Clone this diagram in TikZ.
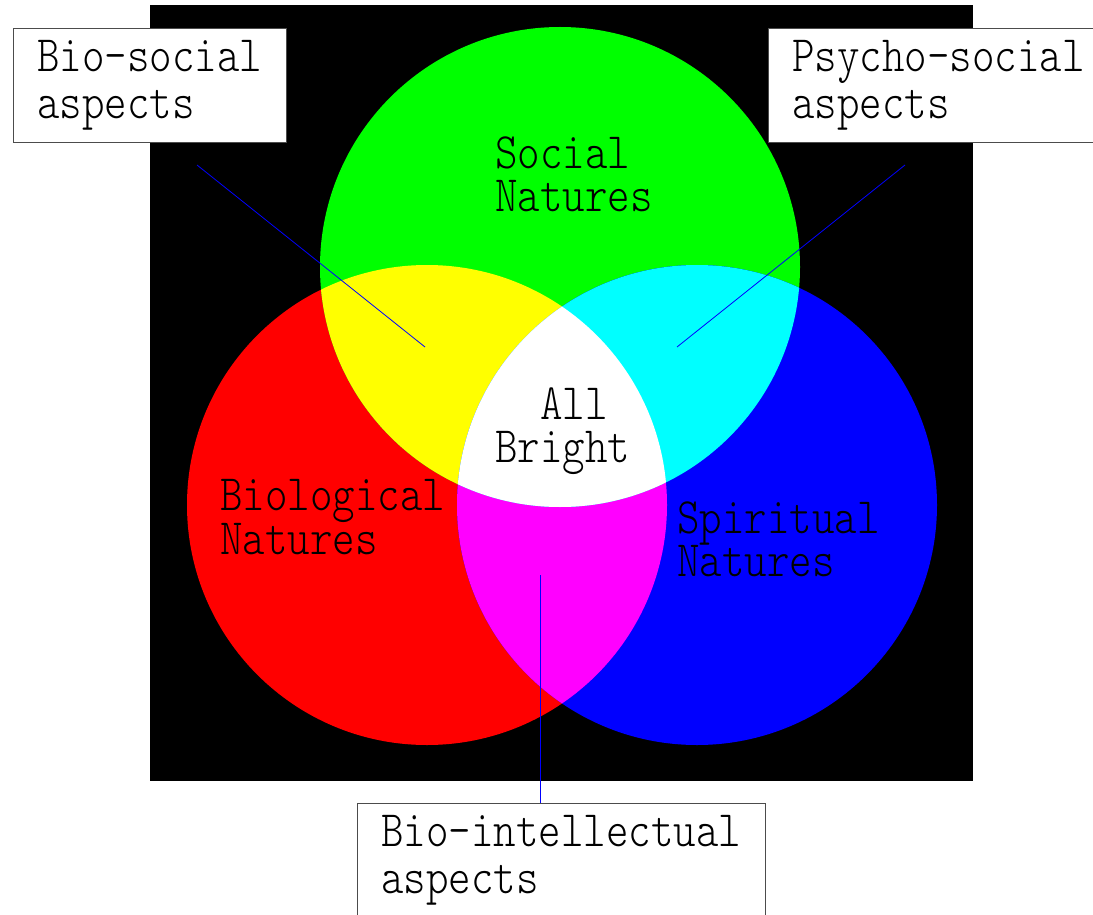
\documentclass[tikz,border=0pt]{standalone}
\usepackage{fontspec}
\newfontfamily\labelfont{lmmonolt10-regular}[Extension=.otf, FakeStretch=0.84]

\definecolor{natyellow}{rgb}{1,1,0}
\definecolor{natcyan}{rgb}{0,1,1}
\definecolor{natmagenta}{rgb}{1,0,1}

\newcommand\biocircle{(427,505) circle[radius=240]}
\newcommand\socialcircle{(560,267) circle[radius=240]}
\newcommand\spiritcircle{(697,505) circle[radius=240]}

\begin{document}
\begin{tikzpicture}[x=1pt, y=-1pt,
  nature/.style={anchor=north west, inner sep=0pt, align=left, font=\labelfont\fontsize{51}{43}\selectfont},
  aspectbox/.style={draw=black!70, line width=1pt, fill=white, anchor=north west, align=left,
                    inner xsep=24pt, minimum height=114pt, font=\labelfont\fontsize{51}{47}\selectfont},
  pointer/.style={blue, line width=0.8pt}]

\path[use as bounding box, fill=white] (0,0) rectangle (1093,915);

% --- black square and the three natures ---
\fill[black] (150,5) rectangle (973,781);
\fill[red] \biocircle;
\fill[green] \socialcircle;
\fill[blue] \spiritcircle;

% --- overlaps ---
\begin{scope}
  \clip \biocircle;
  \fill[natyellow] \socialcircle;
  \fill[natmagenta] \spiritcircle;
\end{scope}
\begin{scope}
  \clip \socialcircle;
  \fill[natcyan] \spiritcircle;
\end{scope}
\begin{scope}
  \clip \biocircle;
  \clip \socialcircle;
  \fill[white] \spiritcircle;
\end{scope}

% --- labels inside ---
\node[nature] (social) at (495,137) {Social\\Natures};
\node[nature] (allbright) at (495,388) {\phantom{Br}All\\Bright};
\node[nature] (biological) at (220,479) {Biological\\Natures};
\node[nature] (spiritual) at (677,502) {Spiritual\\Natures};

% --- aspect boxes ---
\node[aspectbox] (biosocial) at (13,28) {Bio-social\\aspects};
\node[aspectbox] (psychosocial) at (768,28) {Psycho-social\\aspects};
\node[aspectbox] (biointellectual) at (357,803) {Bio-intellectual\\aspects};

% --- pointers ---
\coordinate (yellowtip) at (425,347);
\coordinate (cyantip) at (677,347);
\coordinate (magentatip) at (540,575);
\coordinate (biosocialtail) at (197,165);
\coordinate (psychosocialtail) at (905,165);
\draw[pointer] (biosocialtail) -- (yellowtip);
\draw[pointer] (psychosocialtail) -- (cyantip);
\draw[pointer] (magentatip) -- (magentatip |- biointellectual.north);

\end{tikzpicture}
\end{document}
